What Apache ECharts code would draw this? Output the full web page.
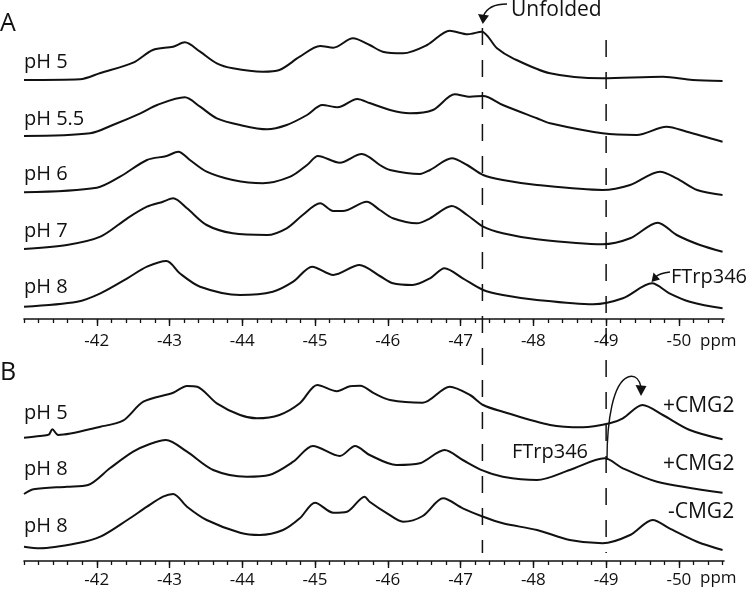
<!DOCTYPE html>
<html>
<head>
<meta charset="utf-8">
<script src="https://cdn.jsdelivr.net/npm/echarts@6/dist/echarts.min.js"></script>
<style>
html,body{margin:0;padding:0;background:#fff;}
#chart{width:756px;height:596px;}
</style>
</head>
<body>
<div id="chart"></div>
<script>
// ---- axis ticks (ppm) ----
const majorTicks = [-42, -43, -44, -45, -46, -47, -48, -49, -50];
const ppmMin = -50.62, ppmMax = -41.0;

// ---- Panel A traces: [ppm, intensity above own baseline] ----
const traceA_pH5 = [[-41.00,0],[-41.77,0.7],[-42.05,7],[-42.50,17.3],[-42.77,30],[-43.05,33.3],[-43.21,37.7],[-43.42,28.3],[-43.65,16.7],[-43.87,11.7],[-44.28,8.3],[-44.51,10],[-44.79,23.3],[-45.07,34],[-45.25,32.3],[-45.52,41.7],[-45.75,35],[-45.93,28.3],[-46.21,26.7],[-46.54,35],[-46.85,49.3],[-47.10,45.7],[-47.29,48.3],[-47.50,31.7],[-47.72,21.7],[-48.23,6.7],[-48.95,1.7],[-49.78,3.3],[-50.19,0],[-50.60,-1]];
const traceA_pH55 = [[-41.00,0],[-41.91,2.7],[-42.22,11],[-42.60,22.7],[-42.83,31],[-43.21,38.7],[-43.42,29.3],[-43.65,17.7],[-43.97,11],[-44.34,6.7],[-44.61,11],[-44.89,21],[-45.10,31],[-45.31,28.7],[-45.58,37],[-45.75,33],[-46.03,26],[-46.30,22.7],[-46.62,26],[-46.92,41.7],[-47.13,39.3],[-47.31,40],[-47.58,31],[-48.05,17.7],[-48.23,12.7],[-48.95,2.7],[-49.42,1],[-49.83,9.3],[-50.11,4.3],[-50.60,-5.7]];
const traceA_pH6 = [[-41.00,0],[-42.00,4.6],[-42.32,15.6],[-42.69,32.3],[-42.96,36.3],[-43.12,40.6],[-43.28,32.3],[-43.51,20.6],[-43.87,12.3],[-44.28,9],[-44.66,15.6],[-44.89,27.3],[-45.04,36.3],[-45.34,29.6],[-45.64,38.3],[-45.75,35],[-45.89,27.3],[-46.03,22.3],[-46.44,18.3],[-46.58,22.3],[-46.88,34],[-47.09,27.3],[-47.31,17.3],[-47.58,12.3],[-48.05,7.3],[-48.95,2.3],[-49.33,7.3],[-49.74,20.6],[-49.97,14],[-50.25,2.3],[-50.60,-2.7]];
const traceA_pH7 = [[-41.00,0],[-41.59,4],[-42.05,12.3],[-42.42,30.7],[-42.69,42.3],[-42.91,47.3],[-43.05,50.7],[-43.24,40.7],[-43.51,24],[-43.87,15.7],[-44.34,14],[-44.61,20.7],[-44.83,34],[-45.07,45.7],[-45.25,38],[-45.38,38],[-45.71,47.3],[-45.89,39],[-46.07,30.7],[-46.40,25.7],[-46.58,30.7],[-46.88,43],[-47.09,34],[-47.31,22.3],[-47.58,15.7],[-48.05,9.7],[-48.95,4.7],[-49.33,10.7],[-49.71,26.3],[-49.97,14],[-50.29,4],[-50.60,-2.7]];
const traceA_pH8 = [[-41.00,0],[-41.73,5],[-42.05,13.4],[-42.42,28.4],[-42.69,40],[-42.96,45.7],[-43.14,33.4],[-43.42,20],[-43.97,11.7],[-44.42,15],[-44.70,25],[-44.96,40],[-45.25,31.7],[-45.61,41.7],[-45.89,30.7],[-46.07,23.4],[-46.34,21.7],[-46.58,28.4],[-46.78,38.4],[-47.03,28.4],[-47.31,16.7],[-47.58,11.7],[-48.05,6.7],[-48.82,2.4],[-49.23,8.4],[-49.63,23.4],[-49.87,13.4],[-50.15,5],[-50.60,-1.6]];

// ---- Panel B traces ----
const traceB_pH5p = [[-41.00,0],[-41.22,1.7],[-41.34,3],[-41.39,8.4],[-41.47,2.7],[-42.05,11],[-42.36,17],[-42.64,36],[-43.05,45],[-43.24,51.7],[-43.38,51],[-43.65,34.4],[-43.97,22.7],[-44.20,19.4],[-44.51,22.7],[-44.79,34.4],[-45.03,52.7],[-45.30,46.5],[-45.48,51.5],[-45.62,52],[-45.82,44],[-46.03,37.7],[-46.48,35],[-46.85,51],[-47.13,42.7],[-47.31,32.7],[-47.58,26],[-48.23,12.7],[-48.68,10.4],[-49.05,14.4],[-49.23,19.4],[-49.50,32.7],[-49.78,22.7],[-50.15,7.7],[-50.60,-1.6]];
const traceB_pH8p = [[-41.00,0],[-41.13,4.7],[-41.59,7.3],[-41.88,9],[-42.18,25.7],[-42.50,42.3],[-42.73,50],[-42.95,54],[-43.24,42.3],[-43.60,24],[-44.06,17.3],[-44.37,19],[-44.70,32.3],[-44.97,48],[-45.34,38],[-45.55,48],[-45.75,39],[-46.12,29],[-46.44,30.7],[-46.78,44],[-47.03,34],[-47.31,23.3],[-47.58,17.3],[-48.05,14],[-48.50,24],[-48.98,35.7],[-49.23,25.7],[-49.70,12.3],[-50.60,1.3]];
const traceB_pH8m = [[-41.00,0],[-41.22,-1.6],[-41.73,3.4],[-42.05,10],[-42.42,26.7],[-42.69,40],[-42.91,50],[-43.05,52.7],[-43.24,40],[-43.51,26.7],[-43.97,14],[-44.24,11.7],[-44.56,16.7],[-44.79,28.4],[-45.00,44],[-45.25,34],[-45.44,35],[-45.68,50],[-45.75,45],[-45.99,33.4],[-46.21,25],[-46.48,30.7],[-46.76,48.4],[-47.03,38.4],[-47.31,30],[-47.58,23.4],[-48.05,16.7],[-48.50,6.7],[-48.95,3.4],[-49.33,11.7],[-49.64,26.7],[-49.87,18.4],[-50.25,5],[-50.60,-3.3]];

// stacking offsets (intensity units above axis)
const stackA = [239, 183, 126.7, 70, 12.3];
const stackB = [123.3, 67, 14.3];
const labelsA = ['pH 5', 'pH 5.5', 'pH 6', 'pH 7', 'pH 8'];
const labelsB = ['pH 5', 'pH 8', 'pH 8'];
const labelsBRight = ['+CMG2', '+CMG2', '-CMG2'];
// reference lines (ppm)
const guideLines = [-47.3, -49.0];

const tracesA = [traceA_pH5, traceA_pH55, traceA_pH6, traceA_pH7, traceA_pH8];
const tracesB = [traceB_pH5p, traceB_pH8p, traceB_pH8m];

const minorTicks = [];
for (let i = 0; i <= 48; i++) minorTicks.push(+(-41 - i * 0.2).toFixed(1));

const INK = '#111';
const FONT = '"Open Sans", "Noto Sans", sans-serif';

function majorAxis(grid, margin) {
  return {
    type: 'value', gridIndex: grid, min: ppmMin, max: ppmMax, inverse: true,
    position: 'bottom',
    axisLine: { show: true, onZero: false, lineStyle: { color: INK, width: 1.6 } },
    axisTick: { show: true, length: 7, lineStyle: { color: INK, width: 1.4 }, customValues: majorTicks },
    axisLabel: { show: true, customValues: majorTicks, color: INK, fontSize: 17, fontFamily: FONT, margin: margin },
    splitLine: { show: false }
  };
}
function minorAxis(grid) {
  return {
    type: 'value', gridIndex: grid, min: ppmMin, max: ppmMax, inverse: true,
    position: 'bottom',
    axisLine: { show: false, onZero: false },
    axisTick: { show: true, length: 4, lineStyle: { color: INK, width: 1.3 }, customValues: minorTicks },
    axisLabel: { show: false },
    splitLine: { show: false }
  };
}

const series = [];
tracesA.forEach((t, i) => {
  series.push({
    type: 'line', xAxisIndex: 0, yAxisIndex: 0, showSymbol: false, smooth: 0.3,
    lineStyle: { color: INK, width: 2 }, silent: true,
    data: t.map(([p, h]) => [p, h + stackA[i]])
  });
});
tracesB.forEach((t, i) => {
  series.push({
    type: 'line', xAxisIndex: 2, yAxisIndex: 1, showSymbol: false, smooth: 0.3,
    lineStyle: { color: INK, width: 2 }, silent: true,
    data: t.map(([p, h]) => [p, h + stackB[i]])
  });
});
const guideTops = [28, 40];
guideLines.forEach((g, i) => {
  series.push({
    type: 'line', xAxisIndex: 4, yAxisIndex: 2, showSymbol: false, silent: true,
    lineStyle: { color: INK, width: 1.5, type: [17, 15] },
    data: [[g, guideTops[i]], [g, 553]]
  });
});

const graphics = [];
function txt(x, y, s, size, align) {
  graphics.push({ type: 'text', x: x, y: y, silent: true,
    style: { text: s, fill: INK, fontSize: size, fontFamily: FONT, align: align || 'left', verticalAlign: 'middle' } });
}
txt(0, 24, 'A', 25);
txt(0, 373, 'B', 25);
const labelYA = [62.5, 119, 174, 231, 287.5];
labelsA.forEach((s, i) => txt(24, labelYA[i], s, 20));
const labelYB = [413, 469, 526];
labelsB.forEach((s, i) => txt(24, labelYB[i], s, 20));
const rightYB = [406, 464, 512.5];
const rightXB = [663, 663, 668];
labelsBRight.forEach((s, i) => txt(rightXB[i], rightYB[i], s, 21));
txt(511, 10, 'Unfolded', 21);
txt(671, 277, 'FTrp346', 20);
txt(512, 452, 'FTrp346', 20);
txt(700, 341, 'ppm', 17);
txt(700, 578, 'ppm', 17);

// arrows
function curve(shape, w) {
  graphics.push({ type: 'bezierCurve', silent: true, shape: shape, style: { stroke: INK, fill: null, lineWidth: w } });
}
function head(points) {
  graphics.push({ type: 'polygon', silent: true, shape: { points: points }, style: { fill: INK } });
}
curve({ x1: 507, y1: 4, cpx1: 488, cpy1: 4, x2: 483.5, y2: 16 }, 1.5);
head([[478, 14], [489, 15.5], [482.8, 24]]);
curve({ x1: 670, y1: 272, cpx1: 660, cpy1: 273, x2: 655.5, y2: 277 }, 1.5);
head([[651.5, 282], [653.5, 272.5], [660, 279.5]]);
curve({ x1: 607, y1: 460, cpx1: 607, cpy1: 420, cpx2: 613, cpy2: 383, x2: 628, y2: 377 }, 1.4);
curve({ x1: 628, y1: 377, cpx1: 636, cpy1: 374, cpx2: 640, cpy2: 381, x2: 641, y2: 387 }, 1.4);
head([[635.5, 385], [646.5, 386], [641, 396]]);

const option = {
  animation: false,
  backgroundColor: '#fff',
  grid: [
    { left: 24, right: 32, top: 19, height: 300 },
    { left: 24, right: 32, top: 261, height: 300 },
    { left: 24, right: 32, top: 0, height: 596 }
  ],
  xAxis: [
    majorAxis(0, 14), minorAxis(0), majorAxis(1, 11), minorAxis(1),
    { type: 'value', gridIndex: 2, min: ppmMin, max: ppmMax, inverse: true, show: false }
  ],
  yAxis: [
    { type: 'value', gridIndex: 0, min: 0, max: 300, show: false },
    { type: 'value', gridIndex: 1, min: 0, max: 300, show: false },
    { type: 'value', gridIndex: 2, min: 0, max: 596, inverse: true, show: false }
  ],
  series: series,
  graphic: graphics
};

const chart = echarts.init(document.getElementById('chart'), null, { renderer: 'canvas' });
chart.setOption(option);
</script>
</body>
</html>
